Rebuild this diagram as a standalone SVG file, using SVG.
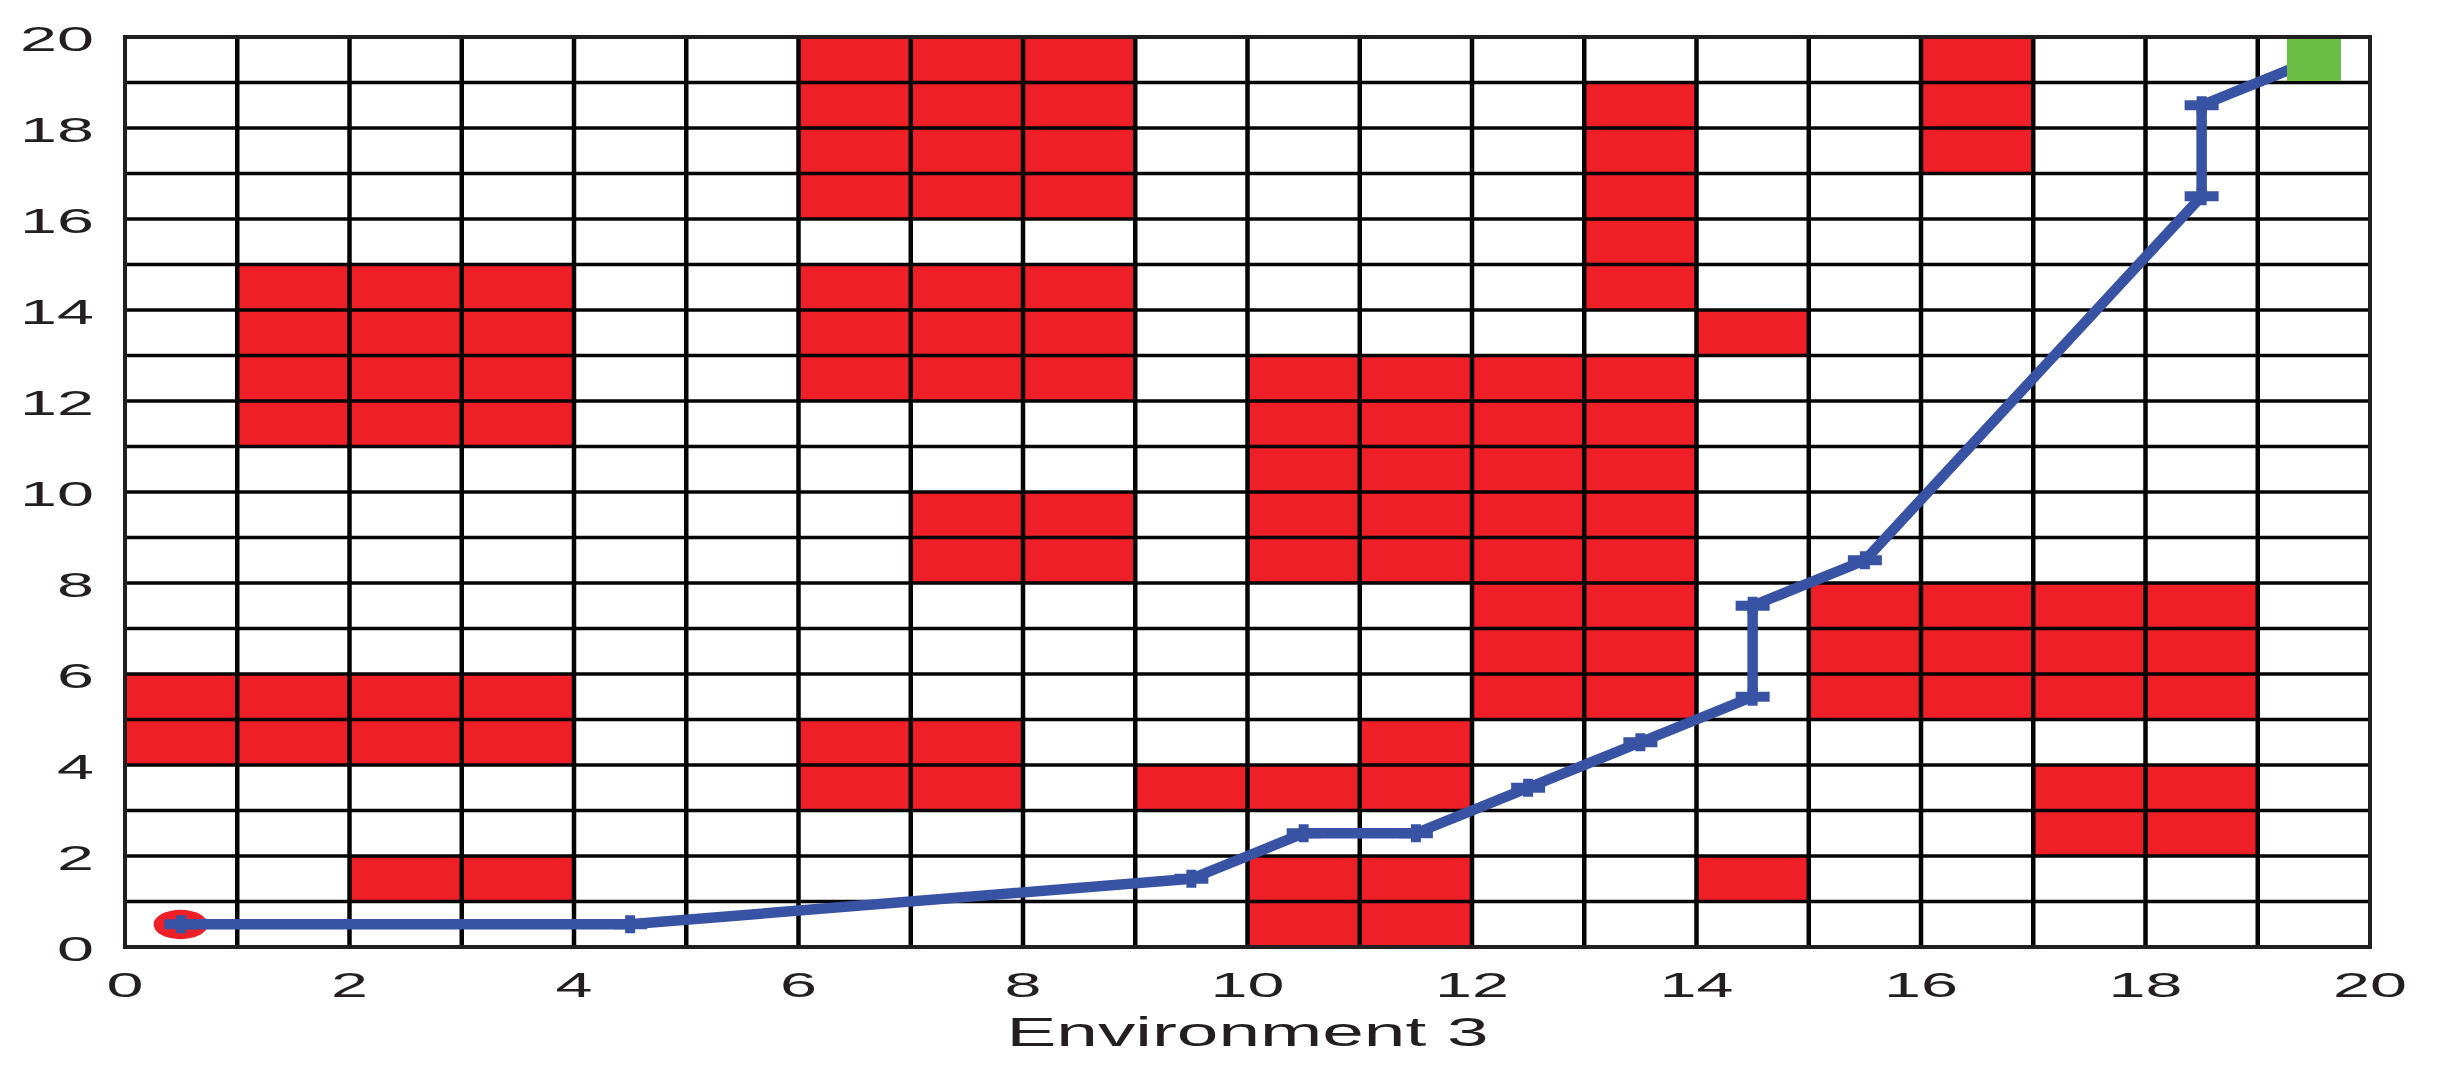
<svg xmlns="http://www.w3.org/2000/svg" xmlns:xlink="http://www.w3.org/1999/xlink" width="2441" height="1070" viewBox="0 0 2441 1070">
<style>
.obs{fill:#ee1f27}
.v{stroke:#050505;stroke-width:4.5}
.h{stroke:#050505;stroke-width:3.5}
.tk{font-family:"Liberation Sans",Arial,Helvetica,sans-serif;font-size:35px;fill:#231f20}
.ttl{font-family:"Liberation Sans",Arial,Helvetica,sans-serif;font-size:40px;fill:#231f20}
.path{fill:none;stroke:#3953a4;stroke-width:10.5;stroke-linejoin:round;marker-start:url(#plus);marker-mid:url(#plus);marker-end:url(#plus)}
</style>
<defs>
<marker id="plus" markerUnits="userSpaceOnUse" markerWidth="40" markerHeight="40" refX="20" refY="20" orient="0" overflow="visible">
<path d="M3,15h34v10h-34z M15,11h10v18h-10z" fill="#3953a4"/>
</marker>
</defs>
<rect width="2441" height="1070" fill="#fff"/>
<g id="obstacles">
<rect class="obs" x="237.25" y="264.5" width="336.75" height="182"/>
<rect class="obs" x="125" y="674" width="449" height="91"/>
<rect class="obs" x="349.5" y="856" width="224.5" height="45.5"/>
<rect class="obs" x="798.5" y="37" width="336.75" height="182"/>
<rect class="obs" x="798.5" y="264.5" width="336.75" height="136.5"/>
<rect class="obs" x="910.75" y="492" width="224.5" height="91"/>
<rect class="obs" x="798.5" y="719.5" width="224.5" height="91"/>
<rect class="obs" x="1135.25" y="765" width="224.5" height="45.5"/>
<rect class="obs" x="1359.75" y="719.5" width="112.25" height="91"/>
<rect class="obs" x="1247.5" y="856" width="224.5" height="91"/>
<rect class="obs" x="1247.5" y="355.5" width="224.5" height="227.5"/>
<rect class="obs" x="1472" y="355.5" width="224.5" height="364"/>
<rect class="obs" x="1584.25" y="82.5" width="112.25" height="227.5"/>
<rect class="obs" x="1696.5" y="310" width="112.25" height="45.5"/>
<rect class="obs" x="1696.5" y="856" width="112.25" height="45.5"/>
<rect class="obs" x="1808.75" y="583" width="449" height="136.5"/>
<rect class="obs" x="2033.25" y="765" width="224.5" height="91"/>
<rect class="obs" x="1921" y="37" width="112.25" height="136.5"/>
</g>
<g id="grid">
<line class="v" x1="237.25" y1="37" x2="237.25" y2="947"/>
<line class="v" x1="349.5" y1="37" x2="349.5" y2="947"/>
<line class="v" x1="461.75" y1="37" x2="461.75" y2="947"/>
<line class="v" x1="574" y1="37" x2="574" y2="947"/>
<line class="v" x1="686.25" y1="37" x2="686.25" y2="947"/>
<line class="v" x1="798.5" y1="37" x2="798.5" y2="947"/>
<line class="v" x1="910.75" y1="37" x2="910.75" y2="947"/>
<line class="v" x1="1023" y1="37" x2="1023" y2="947"/>
<line class="v" x1="1135.25" y1="37" x2="1135.25" y2="947"/>
<line class="v" x1="1247.5" y1="37" x2="1247.5" y2="947"/>
<line class="v" x1="1359.75" y1="37" x2="1359.75" y2="947"/>
<line class="v" x1="1472" y1="37" x2="1472" y2="947"/>
<line class="v" x1="1584.25" y1="37" x2="1584.25" y2="947"/>
<line class="v" x1="1696.5" y1="37" x2="1696.5" y2="947"/>
<line class="v" x1="1808.75" y1="37" x2="1808.75" y2="947"/>
<line class="v" x1="1921" y1="37" x2="1921" y2="947"/>
<line class="v" x1="2033.25" y1="37" x2="2033.25" y2="947"/>
<line class="v" x1="2145.5" y1="37" x2="2145.5" y2="947"/>
<line class="v" x1="2257.75" y1="37" x2="2257.75" y2="947"/>
<line class="h" x1="125" y1="901.5" x2="2370" y2="901.5"/>
<line class="h" x1="125" y1="856" x2="2370" y2="856"/>
<line class="h" x1="125" y1="810.5" x2="2370" y2="810.5"/>
<line class="h" x1="125" y1="765" x2="2370" y2="765"/>
<line class="h" x1="125" y1="719.5" x2="2370" y2="719.5"/>
<line class="h" x1="125" y1="674" x2="2370" y2="674"/>
<line class="h" x1="125" y1="628.5" x2="2370" y2="628.5"/>
<line class="h" x1="125" y1="583" x2="2370" y2="583"/>
<line class="h" x1="125" y1="537.5" x2="2370" y2="537.5"/>
<line class="h" x1="125" y1="492" x2="2370" y2="492"/>
<line class="h" x1="125" y1="446.5" x2="2370" y2="446.5"/>
<line class="h" x1="125" y1="401" x2="2370" y2="401"/>
<line class="h" x1="125" y1="355.5" x2="2370" y2="355.5"/>
<line class="h" x1="125" y1="310" x2="2370" y2="310"/>
<line class="h" x1="125" y1="264.5" x2="2370" y2="264.5"/>
<line class="h" x1="125" y1="219" x2="2370" y2="219"/>
<line class="h" x1="125" y1="173.5" x2="2370" y2="173.5"/>
<line class="h" x1="125" y1="128" x2="2370" y2="128"/>
<line class="h" x1="125" y1="82.5" x2="2370" y2="82.5"/>
<rect x="125" y="37" width="2245" height="910" fill="none" stroke="#231f20" stroke-width="4"/>
</g>
<g id="start">
<ellipse cx="180.6" cy="924.5" rx="27" ry="14.7" fill="#ee1f27"/>
</g>
<g id="connectors">
<polyline class="path" points="181.13,924.25 630.13,924.25 1191.38,878.75 1303.63,833.25 1415.88,833.25 1528.13,787.75 1640.38,742.25 1752.63,696.75 1752.63,605.75 1864.88,560.25 2201.63,196.25 2201.63,105.25 2313.88,59.75"/>
</g>
<g id="goal">
<rect x="2287" y="39" width="54" height="42" fill="#6bbd45"/>
</g>
<g id="yticks" class="tk" text-anchor="end">
<text transform="translate(94,960.5) scale(1.9,1)">0</text>
<text transform="translate(94,869.5) scale(1.9,1)">2</text>
<text transform="translate(94,778.5) scale(1.9,1)">4</text>
<text transform="translate(94,687.5) scale(1.9,1)">6</text>
<text transform="translate(94,596.5) scale(1.9,1)">8</text>
<text transform="translate(94,505.5) scale(1.9,1)">10</text>
<text transform="translate(94,414.5) scale(1.9,1)">12</text>
<text transform="translate(94,323.5) scale(1.9,1)">14</text>
<text transform="translate(94,232.5) scale(1.9,1)">16</text>
<text transform="translate(94,141.5) scale(1.9,1)">18</text>
<text transform="translate(94,50.5) scale(1.9,1)">20</text>
</g>
<g id="xticks" class="tk" text-anchor="middle">
<text transform="translate(125,997) scale(1.9,1)">0</text>
<text transform="translate(349.5,997) scale(1.9,1)">2</text>
<text transform="translate(574,997) scale(1.9,1)">4</text>
<text transform="translate(798.5,997) scale(1.9,1)">6</text>
<text transform="translate(1023,997) scale(1.9,1)">8</text>
<text transform="translate(1247.5,997) scale(1.9,1)">10</text>
<text transform="translate(1472,997) scale(1.9,1)">12</text>
<text transform="translate(1696.5,997) scale(1.9,1)">14</text>
<text transform="translate(1921,997) scale(1.9,1)">16</text>
<text transform="translate(2145.5,997) scale(1.9,1)">18</text>
<text transform="translate(2370,997) scale(1.9,1)">20</text>
</g>
<g id="title">
<text class="ttl" text-anchor="middle" transform="translate(1247.5,1046) scale(1.87,1)">Environment 3</text>
</g>
</svg>
